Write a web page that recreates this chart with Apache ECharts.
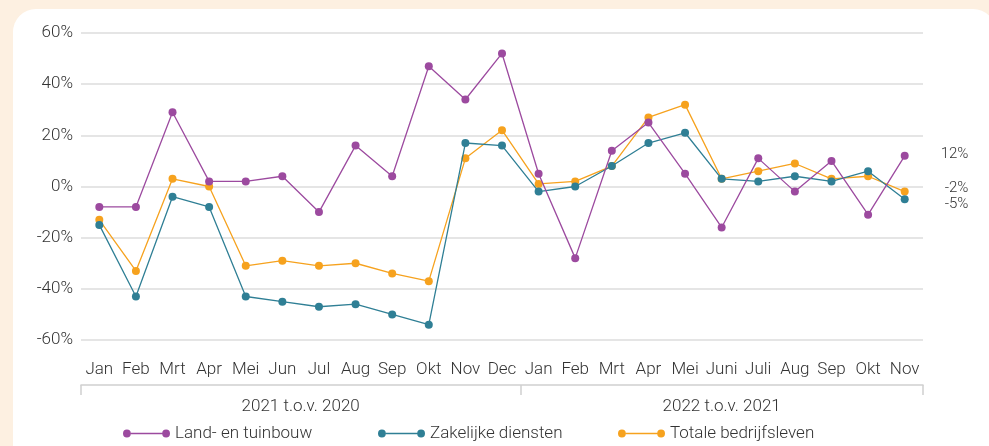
<!DOCTYPE html>
<html>
<head>
<meta charset="utf-8">
<script src="https://cdn.jsdelivr.net/npm/echarts@6/dist/echarts.min.js"></script>
<style>
  html, body { margin: 0; padding: 0; background: #fdf0e1; overflow: hidden; }
  #card { position: absolute; left: 13px; top: 9px; width: 983px; height: 480px; background: #fff; border-radius: 23px; }
  #chart { position: absolute; left: 0; top: 0; width: 989px; height: 446px; }
</style>
</head>
<body>
<div id="card"></div>
<div id="chart"></div>
<script>
const months2021 = ['Jan', 'Feb', 'Mrt', 'Apr', 'Mei', 'Jun', 'Jul', 'Aug', 'Sep', 'Okt', 'Nov', 'Dec'];
const months2022 = ['Jan', 'Feb', 'Mrt', 'Apr', 'Mei', 'Juni', 'Juli', 'Aug', 'Sep', 'Okt', 'Nov'];
const categories = months2021.concat(months2022);

const groupLabels = ['2021 t.o.v. 2020', '2022 t.o.v. 2021'];
const groupTicks = [0, 12, 23];
const groupCenters = [6, 17.5];

const yTicks = [-60, -40, -20, 0, 20, 40, 60];

const landTuinbouw = [-8, -8, 29, 2, 2, 4, -10, 16, 4, 47, 34, 52,
  5, -28, 14, 25, 5, -16, 11, -2, 10, -11, 12];
const zakelijkeDiensten = [-15, -43, -4, -8, -43, -45, -47, -46, -50, -54, 17, 16,
  -2, 0, 8, 17, 21, 3, 2, 4, 2, 6, -5];
const totaleBedrijfsleven = [-13, -33, 3, 0, -31, -29, -31, -30, -34, -37, 11, 22,
  1, 2, 8, 27, 32, 3, 6, 9, 3, 4, -2];

const seriesNames = ['Land- en tuinbouw', 'Zakelijke diensten', 'Totale bedrijfsleven'];
const colors = ['#9c4a9f', '#2f7f95', '#f6a21e'];

const font = 'Roboto, "Noto Sans", sans-serif';
const textColor = '#333';

// last point gets a value label on the right
function withEndLabel(values, distance, dy) {
  return values.map((v, i) => {
    if (i !== values.length - 1) return v;
    return {
      value: v,
      label: {
        show: true, position: 'right', distance: distance, offset: [0, dy],
        formatter: p => p.value + '%',
        color: textColor, fontSize: 15, fontFamily: font, fontWeight: 300
      }
    };
  });
}

// legend icon: dot - line - dot
const legendIcon = 'path://M0,4a4,4 0 1,0 8,0a4,4 0 1,0 -8,0Z M8,3.3h32v1.4h-32Z M40,4a4,4 0 1,0 8,0a4,4 0 1,0 -8,0Z';
const legendLefts = [118, 373, 613];

const chart = echarts.init(document.getElementById('chart'), null, { renderer: 'canvas' });

const option = {
  backgroundColor: 'transparent',
  animation: false,
  textStyle: { fontFamily: font },
  grid: { left: 81, right: 66, top: 33, bottom: 106 },
  legend: seriesNames.map((name, i) => ({
    data: [name],
    left: legendLefts[i],
    top: 420,
    icon: legendIcon,
    itemWidth: 47,
    itemHeight: 8,
    itemGap: 10,
    textStyle: { color: textColor, fontSize: 17, fontFamily: font, fontWeight: 300 }
  })),
  xAxis: [
    {
      type: 'category',
      data: categories,
      boundaryGap: true,
      axisLine: { show: false },
      axisTick: { show: false },
      axisLabel: { interval: 0, margin: 21, color: textColor, fontSize: 17, fontFamily: font, fontWeight: 300 }
    },
    {
      type: 'value',
      min: 0,
      max: 23,
      position: 'bottom',
      offset: 45,
      splitLine: { show: false },
      axisLine: { show: true, lineStyle: { color: '#d0d0d0', width: 1.5 } },
      axisTick: { show: true, customValues: groupTicks, length: 10, inside: false, lineStyle: { color: '#d0d0d0', width: 1.5 } },
      axisLabel: {
        customValues: groupCenters,
        margin: 13,
        formatter: v => (v < 12 ? groupLabels[0] : groupLabels[1]),
        color: textColor, fontSize: 17, fontFamily: font, fontWeight: 300
      }
    }
  ],
  yAxis: {
    type: 'value',
    min: yTicks[0],
    max: yTicks[yTicks.length - 1],
    interval: 20,
    axisLine: { show: false },
    axisTick: { show: false },
    splitLine: { lineStyle: { color: '#dcdcdc', width: 1.5 } },
    axisLabel: { formatter: '{value}%', margin: 8, color: textColor, fontSize: 17, fontFamily: font, fontWeight: 300 }
  },
  series: [
    {
      name: seriesNames[0], type: 'line', z: 4,
      data: withEndLabel(landTuinbouw, 32, -2),
      color: colors[0], symbol: 'circle', symbolSize: 8,
      lineStyle: { width: 1.3 }
    },
    {
      name: seriesNames[1], type: 'line', z: 3,
      data: withEndLabel(zakelijkeDiensten, 36, 5),
      color: colors[1], symbol: 'circle', symbolSize: 8,
      lineStyle: { width: 1.3 }
    },
    {
      name: seriesNames[2], type: 'line', z: 2,
      data: withEndLabel(totaleBedrijfsleven, 36, -3),
      color: colors[2], symbol: 'circle', symbolSize: 8,
      lineStyle: { width: 1.3 }
    }
  ]
};

chart.setOption(option);
</script>
</body>
</html>
